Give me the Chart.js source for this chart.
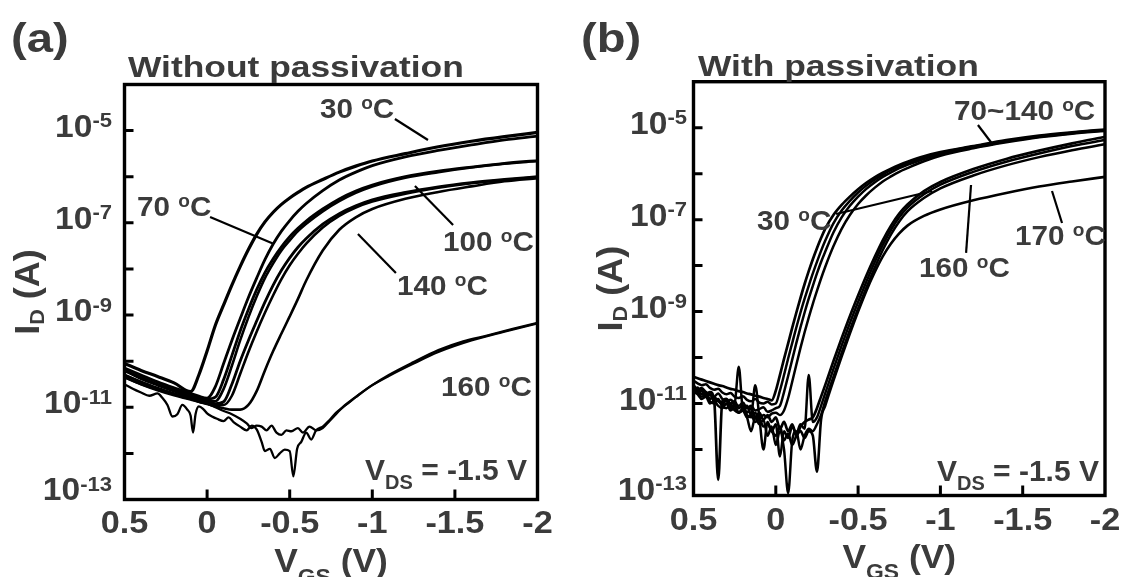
<!DOCTYPE html>
<html>
<head>
<meta charset="utf-8">
<script src="https://cdn.jsdelivr.net/npm/chart.js@4.4.1/dist/chart.umd.min.js"></script>
<style>
  html, body { margin: 0; padding: 0; background: #ffffff; }
  #wrap { position: relative; width: 1122px; height: 577px; overflow: hidden; background: #fff; }
  #ca { position: absolute; left: 0; top: 0; }
  #cb { position: absolute; left: 561px; top: 0; }
</style>
</head>
<body>
<div id="wrap">
  <canvas id="ca" width="561" height="577"></canvas>
  <canvas id="cb" width="561" height="577"></canvas>
</div>
<script>
// ---------------- DATA (log10 of I_D in A) ----------------
// Panel (a): without passivation
const vgsA = [0.5,0.4,0.3,0.2,0.1,0.05,0,-0.05,-0.1,-0.15,-0.2,-0.25,-0.3,-0.35,-0.4,-0.45,-0.5,-0.55,-0.6,-0.7,-0.8,-0.9,-1.0,-1.2,-1.4,-1.6,-1.8,-2.0];
const logA_30  = [-10.05,-10.2,-10.33,-10.47,-10.66,-10.3,-9.78,-9.22,-8.78,-8.35,-7.95,-7.58,-7.25,-6.98,-6.77,-6.6,-6.46,-6.34,-6.23,-6.06,-5.9,-5.77,-5.66,-5.5,-5.35,-5.23,-5.13,-5.04];
const logA_70  = [-10.15,-10.3,-10.45,-10.58,-10.7,-10.76,-10.8,-10.55,-10.05,-9.55,-9.08,-8.62,-8.2,-7.8,-7.46,-7.18,-6.95,-6.75,-6.58,-6.3,-6.07,-5.9,-5.76,-5.57,-5.43,-5.31,-5.2,-5.12];
const logA_100a = [-10.2,-10.35,-10.5,-10.62,-10.72,-10.78,-10.82,-10.78,-10.4,-9.88,-9.35,-8.88,-8.45,-8.08,-7.78,-7.52,-7.3,-7.12,-6.96,-6.7,-6.48,-6.31,-6.18,-6.0,-5.88,-5.79,-5.71,-5.65];
const logA_100b = [-10.3,-10.45,-10.58,-10.7,-10.78,-10.82,-10.86,-10.87,-10.6,-10.1,-9.55,-9.05,-8.6,-8.2,-7.88,-7.6,-7.38,-7.18,-7.02,-6.75,-6.53,-6.35,-6.21,-6.02,-5.9,-5.8,-5.72,-5.66];
const logA_140a = [-10.2,-10.38,-10.52,-10.65,-10.77,-10.83,-10.88,-10.92,-10.88,-10.5,-10.0,-9.55,-9.13,-8.72,-8.35,-8.03,-7.76,-7.53,-7.34,-7.03,-6.8,-6.63,-6.5,-6.34,-6.22,-6.13,-6.06,-6.0];
const logA_140b = [-10.35,-10.5,-10.63,-10.74,-10.83,-10.88,-10.92,-10.95,-10.95,-10.75,-10.28,-9.8,-9.36,-8.95,-8.57,-8.22,-7.92,-7.67,-7.45,-7.1,-6.85,-6.67,-6.54,-6.37,-6.24,-6.14,-6.07,-6.01];
const logA_140c = [-10.3,-10.45,-10.6,-10.72,-10.82,-10.88,-10.93,-10.98,-11.02,-11.05,-11.05,-10.95,-10.65,-10.2,-9.78,-9.4,-9.03,-8.65,-8.25,-7.6,-7.15,-6.88,-6.7,-6.48,-6.33,-6.21,-6.1,-6.03];

const vgsA_160a = [0.5,0.4,0.3,0.2,0.15,0.1,0.05,0,-0.05,-0.1,-0.15,-0.2,-0.24,-0.27,-0.3,-0.33,-0.36,-0.39,-0.42,-0.45,-0.48,-0.51,-0.55,-0.58,-0.62,-0.66,-0.7,-0.74,-0.78,-0.82,-0.9,-1.0,-1.1,-1.25,-1.4,-1.55,-1.7,-1.85,-2.0];
const logA_160a = [-10.35,-10.5,-10.62,-10.72,-10.78,-10.8,-10.88,-10.92,-11.0,-11.08,-11.15,-11.25,-11.35,-11.45,-11.4,-11.42,-11.5,-11.4,-11.55,-11.6,-11.5,-11.52,-11.45,-11.55,-11.42,-11.5,-11.45,-11.3,-11.15,-11.0,-10.78,-10.52,-10.3,-10.02,-9.76,-9.57,-9.44,-9.3,-9.17];
const vgsA_160b = [0.5,0.45,0.4,0.35,0.3,0.27,0.24,0.21,0.18,0.15,0.12,0.1,0.085,0.07,0.05,0.02,0,-0.03,-0.06,-0.1,-0.13,-0.16,-0.2,-0.24,-0.27,-0.3,-0.33,-0.35,-0.38,-0.41,-0.44,-0.47,-0.5,-0.522,-0.545,-0.57,-0.6,-0.63,-0.66,-0.7,-0.74,-0.78,-0.84,-0.92,-1.0,-1.1,-1.25,-1.4,-1.6,-1.8,-2.0];
const logA_160b = [-10.5,-10.6,-10.68,-10.75,-10.7,-10.8,-10.95,-11.2,-11.15,-10.95,-11.05,-11.18,-11.55,-11.15,-10.98,-11.05,-11.13,-11.2,-11.25,-11.3,-11.22,-11.32,-11.42,-11.5,-11.4,-11.48,-11.75,-11.95,-11.9,-12.1,-12.0,-11.92,-11.95,-12.5,-11.9,-11.75,-11.55,-11.7,-11.5,-11.42,-11.28,-11.12,-10.95,-10.72,-10.52,-10.32,-10.05,-9.8,-9.55,-9.36,-9.18];

// Panel (b): with passivation
const vgsB = [0.5,0.475,0.45,0.425,0.4,0.375,0.35,0.325,0.3,0.275,0.25,0.225,0.2,0.175,0.15,0.125,0.1,0.075,0.05,0.025,0,-0.025,-0.05,-0.075,-0.1,-0.125,-0.15,-0.175,-0.2,-0.225,-0.25,-0.275,-0.3,-0.35,-0.4,-0.45,-0.5,-0.55,-0.6,-0.65,-0.7,-0.75,-0.8,-0.9,-1.0,-1.2,-1.4,-1.6,-1.8,-2.0];
const logB_70a = [-10.42,-10.45,-10.48,-10.51,-10.54,-10.57,-10.6,-10.62,-10.65,-10.68,
                  -10.7,-10.73,-10.75,-10.78,-10.8,-10.83,-10.85,-10.88,-10.9,-10.93,
                  -10.72,-10.38,-10.03,-9.69,-9.35,-9.02,-8.7,-8.4,-8.12,-7.86,
                  -7.62,-7.4,-7.2,-6.9,-6.68,-6.5,-6.34,-6.2,-6.08,-5.98,
                  -5.89,-5.81,-5.74,-5.62,-5.53,-5.4,-5.27,-5.17,-5.1,-5.04];
const logB_100 = [-10.5,-10.56,-10.6,-10.58,-10.66,-10.7,-10.68,-10.76,-10.8,-10.77,
                  -10.85,-10.88,-10.84,-10.92,-10.95,-10.9,-10.98,-11.0,-10.96,-11.02,
                  -11.0,-10.72,-10.38,-10.02,-9.68,-9.34,-9.02,-8.72,-8.44,-8.17,
                  -7.92,-7.68,-7.46,-7.08,-6.8,-6.59,-6.41,-6.26,-6.13,-6.02,
                  -5.92,-5.84,-5.77,-5.65,-5.55,-5.41,-5.29,-5.19,-5.11,-5.05];
const logB_120 = [-10.62,-10.7,-10.66,-10.75,-10.8,-10.85,-10.78,-10.9,-10.95,-10.92,
                  -11.0,-11.05,-10.98,-11.1,-11.05,-11.15,-11.12,-11.08,-11.18,-11.15,
                  -11.1,-11.05,-10.75,-10.4,-10.04,-9.68,-9.34,-9.02,-8.72,-8.44,
                  -8.17,-7.92,-7.7,-7.28,-6.95,-6.7,-6.5,-6.33,-6.19,-6.07,
                  -5.97,-5.88,-5.81,-5.68,-5.58,-5.43,-5.3,-5.2,-5.12,-5.06];
const logB_140 = [-10.7,-10.75,-10.85,-10.8,-10.95,-11.0,-10.92,-11.05,-11.1,-11.02,
                  -11.15,-11.2,-11.1,-11.25,-11.3,-11.2,-11.35,-11.25,-11.3,-11.22,
                  -11.2,-11.25,-11.15,-10.88,-10.52,-10.15,-9.79,-9.45,-9.13,-8.83,
                  -8.55,-8.28,-8.03,-7.58,-7.2,-6.9,-6.66,-6.47,-6.31,-6.17,
                  -6.06,-5.96,-5.88,-5.73,-5.61,-5.45,-5.32,-5.21,-5.13,-5.07];
const logB_30  = [-10.6,-10.7,-10.68,-10.8,-10.75,-10.9,-12.66,-10.95,-10.9,-11.0,
                  -10.95,-11.1,-11.05,-11.2,-11.1,-11.3,-11.2,-11.35,-11.25,-11.4,
                  -11.3,-11.55,-11.4,-11.6,-11.45,-11.7,-11.5,-11.4,-11.35,-11.3,
                  -11.1,-10.85,-10.6,-10.08,-9.58,-9.1,-8.65,-8.22,-7.82,-7.45,
                  -7.13,-6.87,-6.67,-6.38,-6.18,-5.9,-5.68,-5.5,-5.34,-5.2];
const logB_150 = [-10.7,-10.65,-10.8,-10.75,-10.9,-10.85,-10.95,-11.0,-10.92,-11.05,
                  -11.0,-10.2,-11.1,-11.05,-11.25,-10.6,-11.3,-12.0,-11.4,-11.6,
                  -11.45,-12.15,-11.6,-11.75,-11.5,-11.65,-11.45,-11.55,-10.38,-11.4,
                  -11.3,-11.05,-10.78,-10.25,-9.74,-9.25,-8.79,-8.35,-7.93,-7.55,
                  -7.22,-6.95,-6.74,-6.45,-6.24,-5.96,-5.74,-5.56,-5.4,-5.27];
const logB_160 = [-10.75,-10.8,-10.9,-10.85,-11.0,-10.95,-11.05,-11.1,-11.0,-11.15,
                  -11.1,-11.2,-11.15,-11.3,-11.6,-11.3,-11.45,-11.35,-11.7,-11.5,
                  -11.9,-11.6,-12.0,-12.95,-11.8,-11.6,-12.0,-11.7,-11.55,-11.6,
                  -11.45,-11.25,-10.95,-10.42,-9.9,-9.4,-8.93,-8.48,-8.05,-7.66,
                  -7.32,-7.04,-6.82,-6.53,-6.32,-6.04,-5.82,-5.64,-5.49,-5.36];
const logB_170 = [-10.65,-10.75,-10.72,-10.85,-10.8,-10.95,-10.9,-11.05,-11.0,-11.1,
                  -11.05,-11.2,-11.15,-11.3,-11.25,-11.4,-11.35,-11.5,-11.45,-11.6,
                  -11.7,-11.5,-11.8,-11.65,-11.9,-11.7,-11.6,-11.75,-11.6,-11.7,
                  -12.48,-11.35,-11.05,-10.5,-9.98,-9.48,-9.0,-8.55,-8.15,-7.8,
                  -7.52,-7.3,-7.13,-6.92,-6.78,-6.58,-6.42,-6.28,-6.17,-6.07];

// axis ticks / labels
const xTickVals   = [0.5, 0, -0.5, -1, -1.5, -2];
const xTickLabels = ['0.5', '0', '-0.5', '-1', '-1.5', '-2'];
const yLabelExps  = [-5, -7, -9, -11, -13];
const yTickExps   = [-12, -11, -10, -9, -8, -7, -6, -5];

// annotations: [label number, text x, text log10 y, leader from (x,logy), leader to (x,logy)]
const annA = [
  ['30',  -0.683, -4.727, [-1.137, -4.748], [-1.337, -5.204]],
  ['70',   0.424, -6.852, [-0.018, -6.874], [-0.405, -7.459]],
  ['100', -1.428, -7.61,  [-1.258, -6.201], [-1.489, -7.047]],
  ['140', -1.15,  -8.565, [-0.913, -7.242], [-1.143, -8.088]],
  ['160', -1.416, -10.756, null, null]
];
const annB = [
  ['70~140', -1.083, -4.833, [-1.228, -4.942], [-1.32, -5.377]],
  ['30',      0.114, -7.225, [-0.366, -6.878], [-0.949, -6.377]],
  ['160',    -0.87,  -8.249, [-1.186, -6.247], [-1.156, -7.724]],
  ['170',    -1.453, -7.552, [-1.678, -6.377], [-1.739, -7.073]]
];
const vdsA = [-0.956, -12.577];
const vdsB = [-0.979, -12.684];

// ---------------- DRAWING ----------------
const FONT = '"Liberation Sans", Arial, Helvetica, sans-serif';
const TXT = '#3b3b3b';

function drawRich(ctx, parts, x, y, align, sx) {
  sx = sx || 1;
  let w = 0;
  const ws = parts.map(p => { ctx.font = 'bold ' + p[1] + 'px ' + FONT; const m = ctx.measureText(p[0]).width; w += m; return m; });
  w *= sx;
  let cx = align === 'right' ? x - w : (align === 'center' ? x - w / 2 : x);
  ctx.textAlign = 'left';
  ctx.textBaseline = 'alphabetic';
  parts.forEach((p, i) => {
    ctx.font = 'bold ' + p[1] + 'px ' + FONT;
    ctx.save();
    ctx.translate(cx, y + (p[2] || 0));
    ctx.scale(sx, 1);
    ctx.fillText(p[0], 0, 0);
    ctx.restore();
    cx += ws[i] * sx;
  });
}

function series(vgs, logs) {
  return vgs.map((v, i) => ({ x: v, y: Math.pow(10, logs[i]) }));
}

const decoPlugin = {
  id: 'deco',
  afterDraw(chart, args, o) {
    const ctx = chart.ctx, ca = chart.chartArea, xs = chart.scales.x, ys = chart.scales.y;
    ctx.save();
    ctx.strokeStyle = '#000';
    ctx.lineCap = 'butt';
    // ticks
    ctx.lineWidth = 3;
    ctx.beginPath();
    yTickExps.forEach(e => { const py = ys.getPixelForValue(Math.pow(10, e)); ctx.moveTo(ca.left, py); ctx.lineTo(ca.left + 9, py); });
    xTickVals.slice(1, -1).forEach(v => { const px = xs.getPixelForValue(v); ctx.moveTo(px, ca.bottom); ctx.lineTo(px, ca.bottom - 10); });
    ctx.stroke();
    // frame
    ctx.lineWidth = 3.4;
    ctx.strokeRect(ca.left, ca.top, ca.right - ca.left, ca.bottom - ca.top);

    ctx.fillStyle = TXT;
    // y tick labels
    yLabelExps.forEach(e => {
      const py = ys.getPixelForValue(Math.pow(10, e));
      const dy = e === -13 ? o.bottomLabDy : 6;
      drawRich(ctx, [['10', 32, 0], [String(e), 21, -9.5]], o.yLabRight, py + dy, 'right', 1.05);
    });
    // x tick labels
    xTickVals.forEach((v, i) => {
      drawRich(ctx, [[xTickLabels[i], 32, 0]], xs.getPixelForValue(v), o.xLabBase, 'center', 1.07);
    });
    // x title
    drawRich(ctx, [['V', 34, 0], ['GS', 22, o.subDy], [' (V)', 34, 0]], (ca.left + ca.right) / 2, o.xTitleBase, 'center', 1.04);
    // y title (rotated)
    ctx.save();
    ctx.translate(o.yTitleX, (ca.top + ca.bottom) / 2);
    ctx.rotate(-Math.PI / 2);
    drawRich(ctx, [['I', 35, 0], ['D', 21, 5], [' (A)', 35, 0]], 0, 0, 'center', 1.03);
    ctx.restore();
    // panel title and letter
    drawRich(ctx, [[o.title, 29, 0]], o.titleX, o.titleY, 'left', 1.22);
    drawRich(ctx, [[o.letter, 41, 0]], o.letterX, o.letterY, 'left', 1.15);

    // annotations
    o.ann.forEach(a => {
      const tx = xs.getPixelForValue(a[1]), ty = ys.getPixelForValue(Math.pow(10, a[2]));
      ctx.fillStyle = TXT;
      drawRich(ctx, [[a[0] + ' ', 28, 0], ['o', 18, -9], ['C', 28, 0]], tx, ty, 'left', 1.06);
      if (a[3]) {
        ctx.strokeStyle = '#000';
        ctx.lineWidth = 2.2;
        ctx.beginPath();
        ctx.moveTo(xs.getPixelForValue(a[3][0]), ys.getPixelForValue(Math.pow(10, a[3][1])));
        ctx.lineTo(xs.getPixelForValue(a[4][0]), ys.getPixelForValue(Math.pow(10, a[4][1])));
        ctx.stroke();
      }
    });
    // V_DS
    ctx.fillStyle = TXT;
    drawRich(ctx, [['V', 30, 0], ['DS', 20, 9], [' = -1.5 V', 30, 0]],
      xs.getPixelForValue(o.vds[0]), ys.getPixelForValue(Math.pow(10, o.vds[1])), 'left', 1.0);
    ctx.restore();
  }
};

function makeChart(id, datasets, widths, pad, deco) {
  return new Chart(document.getElementById(id), {
    type: 'line',
    data: { datasets: datasets.map((d, i) => ({ data: d, borderColor: '#000', borderWidth: widths[i], pointRadius: 0, fill: false, cubicInterpolationMode: 'monotone' })) },
    options: {
      responsive: false,
      animation: false,
      events: [],
      layout: { padding: pad },
      plugins: { legend: { display: false }, tooltip: { enabled: false }, deco: deco },
      scales: {
        x: { type: 'linear', min: -2, max: 0.5, reverse: true, display: false },
        y: { type: 'logarithmic', min: 1e-13, max: 1e-4, display: false }
      }
    },
    plugins: [decoPlugin]
  });
}

makeChart('ca', [
  series(vgsA, logA_30), series(vgsA, logA_70), series(vgsA, logA_100a), series(vgsA, logA_100b),
  series(vgsA, logA_140a), series(vgsA, logA_140b), series(vgsA, logA_140c),
  series(vgsA_160a, logA_160a), series(vgsA_160b, logA_160b)
], [3.2, 2.8, 2.8, 2.6, 2.8, 2.6, 2.6, 2.3, 2.3],
{ left: 124.5, right: 23.5, top: 84.5, bottom: 77.5 }, {
  yLabRight: 112, bottomLabDy: 0.5, xLabBase: 533, xTitleBase: 571.5, subDy: 12, yTitleX: 39,
  title: 'Without passivation', titleX: 128, titleY: 76.5, letter: '(a)', letterX: 11, letterY: 52,
  ann: annA, vds: vdsA
});

makeChart('cb', [
  series(vgsB, logB_70a), series(vgsB, logB_100), series(vgsB, logB_120), series(vgsB, logB_140),
  series(vgsB, logB_30), series(vgsB, logB_150), series(vgsB, logB_160), series(vgsB, logB_170)
], [2.7, 2.5, 2.5, 2.5, 2.7, 2.5, 2.5, 2.6],
{ left: 132.5, right: 17, top: 81.7, bottom: 81.5 }, {
  yLabRight: 126, bottomLabDy: 4, xLabBase: 530, xTitleBase: 568, subDy: 11, yTitleX: 61,
  title: 'With passivation', titleX: 137, titleY: 76, letter: '(b)', letterX: 20, letterY: 52,
  ann: annB, vds: vdsB
});
</script>
</body>
</html>
